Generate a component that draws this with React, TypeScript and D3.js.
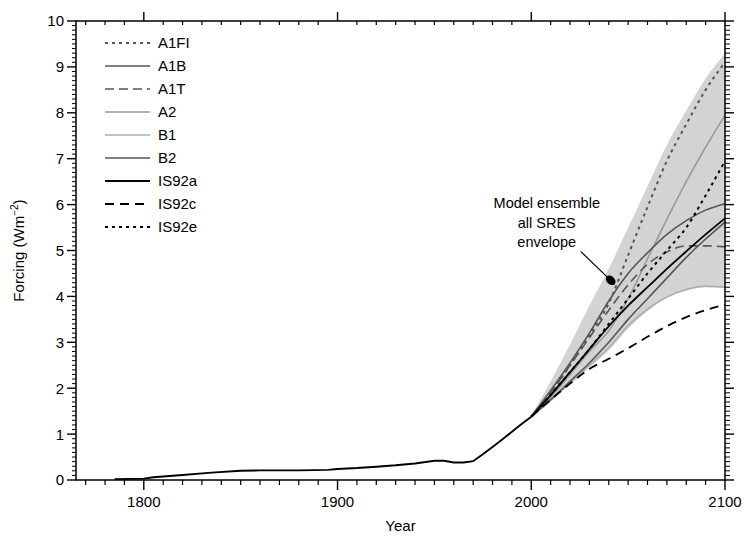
import React from "react";
import * as d3 from "d3";

// ---------- data ----------
const histYears = [1785, 1800, 1805, 1820, 1835, 1850, 1860, 1880, 1895, 1900, 1910, 1920, 1930, 1940, 1950, 1955, 1960, 1965, 1970, 1975, 1980, 1985, 1990, 1995, 2000];
const histValues = [0.02, 0.03, 0.06, 0.11, 0.16, 0.2, 0.21, 0.21, 0.22, 0.24, 0.26, 0.29, 0.32, 0.36, 0.42, 0.42, 0.38, 0.38, 0.41, 0.56, 0.72, 0.88, 1.05, 1.22, 1.38];

const futYears = [2000, 2010, 2020, 2030, 2040, 2050, 2060, 2070, 2080, 2090, 2100];
const envUpper = [1.4, 2.15, 2.95, 3.8, 4.6, 5.5, 6.4, 7.3, 8.05, 8.75, 9.3];
const envLower = [1.36, 1.7, 2.08, 2.45, 2.82, 3.3, 3.68, 3.96, 4.13, 4.2, 4.18];

const A1FI = [1.38, 1.9, 2.5, 3.15, 3.85, 4.9, 5.95, 6.95, 7.75, 8.5, 9.1];
const A1B = [1.38, 1.95, 2.55, 3.2, 3.9, 4.5, 4.95, 5.35, 5.65, 5.88, 6.02];
const A1T = [1.38, 1.9, 2.5, 3.1, 3.7, 4.25, 4.7, 4.97, 5.1, 5.1, 5.08];
const A2 = [1.38, 1.8, 2.3, 2.8, 3.25, 3.95, 4.82, 5.68, 6.5, 7.25, 7.95];
const B1 = [1.38, 1.74, 2.12, 2.5, 2.88, 3.36, 3.72, 3.99, 4.15, 4.22, 4.2];
const B2 = [1.38, 1.75, 2.15, 2.55, 3.0, 3.5, 3.95, 4.4, 4.85, 5.25, 5.62];
const IS92a = [1.38, 1.85, 2.35, 2.85, 3.35, 3.8, 4.2, 4.6, 4.98, 5.35, 5.7];
const IS92c = [1.38, 1.75, 2.1, 2.42, 2.64, 2.87, 3.12, 3.35, 3.55, 3.7, 3.82];
const IS92e = [1.38, 1.85, 2.35, 2.85, 3.4, 3.95, 4.5, 5.0, 5.5, 6.2, 6.95];

const seriesNames = ["A1FI", "A1B", "A1T", "A2", "B1", "B2", "IS92a", "IS92c", "IS92e"];
const seriesValues = [A1FI, A1B, A1T, A2, B1, B2, IS92a, IS92c, IS92e];
const seriesColors = ["#555", "#555", "#555", "#9a9a9a", "#adadad", "#555", "#000", "#000", "#000"];
const seriesDash = ["3,4", "none", "9,5", "none", "none", "none", "none", "9,6", "3,4"];
const seriesWidth = [2, 1.6, 1.6, 1.6, 1.6, 1.6, 1.8, 1.8, 2];
const drawOrder = [4, 3, 0, 2, 5, 1, 8, 7, 6];

const xMajorTicks = [1800, 1900, 2000, 2100];
const yMajorTicks = [0, 1, 2, 3, 4, 5, 6, 7, 8, 9, 10];
const annotationLines = ["Model ensemble", "all SRES", "envelope"];

// ---------- layout ----------
const W = 745, H = 538;
const left = 76, right = 725, top = 21, bottom = 480;
const FONT = "'Liberation Sans', Arial, Helvetica, sans-serif";

export default function App() {
  const x = d3.scaleLinear().domain([1765, 2100]).range([left, right]);
  const y = d3.scaleLinear().domain([0, 10]).range([bottom, top]);

  const area = d3
    .area<number>()
    .x((_, i) => x(futYears[i]))
    .y0((_, i) => y(envLower[i]))
    .y1((_, i) => y(envUpper[i]))
    .curve(d3.curveMonotoneX);

  const futLine = d3
    .line<number>()
    .x((_, i) => x(futYears[i]))
    .y((v) => y(v))
    .curve(d3.curveMonotoneX);

  const histLine = d3
    .line<number>()
    .x((_, i) => x(histYears[i]))
    .y((v) => y(v));

  const xMinor = d3.range(1770, 2100, 10).filter((t) => !xMajorTicks.includes(t));
  const yMinor = d3.range(1, 100).map((i) => i / 10).filter((t) => Math.abs(t - Math.round(t)) > 1e-6);

  // annotation (data coordinates)
  const annX = 2008;
  const annY = [5.93, 5.5, 5.08];
  const arrowStart: [number, number] = [2025.5, 4.98];
  const arrowEnd: [number, number] = [2041, 4.35];
  const ax1 = x(arrowStart[0]), ay1 = y(arrowStart[1]);
  const ax2 = x(arrowEnd[0]), ay2 = y(arrowEnd[1]);
  const ang = (Math.atan2(ay2 - ay1, ax2 - ax1) * 180) / Math.PI;

  const legX0 = 105, legX1 = 150, legTextX = 158, legY0 = 43, legDy = 23;

  return (
    <svg width={W} height={H} style={{ position: "absolute", left: 0, top: 0, background: "#fff" }} fontFamily={FONT}>
      <rect x={0} y={0} width={W} height={H} fill="#fff" />
      {/* envelope */}
      <path d={area(futYears) || ""} fill="#d3d3d3" stroke="none" />

      {/* scenario lines */}
      {drawOrder.map((k) => (
        <path
          key={seriesNames[k]}
          d={futLine(seriesValues[k]) || ""}
          fill="none"
          stroke={seriesColors[k]}
          strokeWidth={seriesWidth[k]}
          strokeDasharray={seriesDash[k]}
        />
      ))}

      {/* historical */}
      <path d={histLine(histValues) || ""} fill="none" stroke="#000" strokeWidth={1.9} />

      {/* frame */}
      <rect x={left} y={top} width={right - left} height={bottom - top} fill="none" stroke="#000" strokeWidth={1.5} />

      {/* bottom ticks */}
      {xMinor.map((t) => (
        <line key={"bm" + t} x1={x(t)} x2={x(t)} y1={bottom} y2={bottom + 5} stroke="#000" strokeWidth={1.2} />
      ))}
      {xMajorTicks.map((t) => (
        <line key={"bM" + t} x1={x(t)} x2={x(t)} y1={bottom} y2={bottom + 10} stroke="#000" strokeWidth={1.4} />
      ))}
      {/* top ticks */}
      {xMinor.map((t) => (
        <line key={"tm" + t} x1={x(t)} x2={x(t)} y1={top} y2={top + 4} stroke="#000" strokeWidth={1.2} />
      ))}
      {xMajorTicks.map((t) => (
        <line key={"tM" + t} x1={x(t)} x2={x(t)} y1={top} y2={top - 9} stroke="#000" strokeWidth={1.4} />
      ))}
      {/* left ticks */}
      {yMinor.map((t) => (
        <line key={"lm" + t} x1={left} x2={left - 4} y1={y(t)} y2={y(t)} stroke="#000" strokeWidth={1} />
      ))}
      {yMajorTicks.map((t) => (
        <line key={"lM" + t} x1={left} x2={left - 9} y1={y(t)} y2={y(t)} stroke="#000" strokeWidth={1.4} />
      ))}
      {/* right ticks */}
      {yMinor.map((t) => (
        <line key={"rm" + t} x1={right} x2={right + 5} y1={y(t)} y2={y(t)} stroke="#000" strokeWidth={1} />
      ))}
      {yMajorTicks.map((t) => (
        <line key={"rM" + t} x1={right} x2={right + 9} y1={y(t)} y2={y(t)} stroke="#000" strokeWidth={1.4} />
      ))}

      {/* y labels */}
      {yMajorTicks.map((t) => (
        <text key={"yl" + t} x={left - 12} y={y(t)} dy="0.36em" textAnchor="end" fontSize={15} fill="#000">
          {t}
        </text>
      ))}
      {/* x labels */}
      {xMajorTicks.map((t) => (
        <text key={"xl" + t} x={x(t)} y={bottom + 27} textAnchor="middle" fontSize={15} fill="#000">
          {t}
        </text>
      ))}

      {/* axis titles */}
      <text x={(left + right) / 2} y={H - 7} textAnchor="middle" fontSize={15}>
        Year
      </text>
      <text transform={`translate(24, ${(top + bottom) / 2}) rotate(-90)`} textAnchor="middle" fontSize={15}>
        Forcing (Wm
        <tspan dy={-6} fontSize={10}>
          −2
        </tspan>
        <tspan dy={6}>)</tspan>
      </text>

      {/* legend */}
      {seriesNames.map((n, i) => (
        <g key={"lg" + n}>
          <line
            x1={legX0}
            x2={legX1}
            y1={legY0 + i * legDy}
            y2={legY0 + i * legDy}
            stroke={seriesColors[i]}
            strokeWidth={seriesWidth[i]}
            strokeDasharray={seriesDash[i]}
          />
          <text x={legTextX} y={legY0 + i * legDy} dy="0.36em" fontSize={15} fill="#000">
            {n}
          </text>
        </g>
      ))}

      {/* annotation */}
      {annotationLines.map((s, i) => (
        <text key={"an" + i} x={x(annX)} y={y(annY[i])} textAnchor="middle" fontSize={14.5} fill="#000">
          {s}
        </text>
      ))}
      <line x1={ax1} y1={ay1} x2={ax2} y2={ay2} stroke="#000" strokeWidth={1.2} />
      <ellipse
        cx={ax2}
        cy={ay2}
        rx={5.5}
        ry={4}
        fill="#000"
        transform={`rotate(${ang}, ${ax2}, ${ay2})`}
      />
    </svg>
  );
}
